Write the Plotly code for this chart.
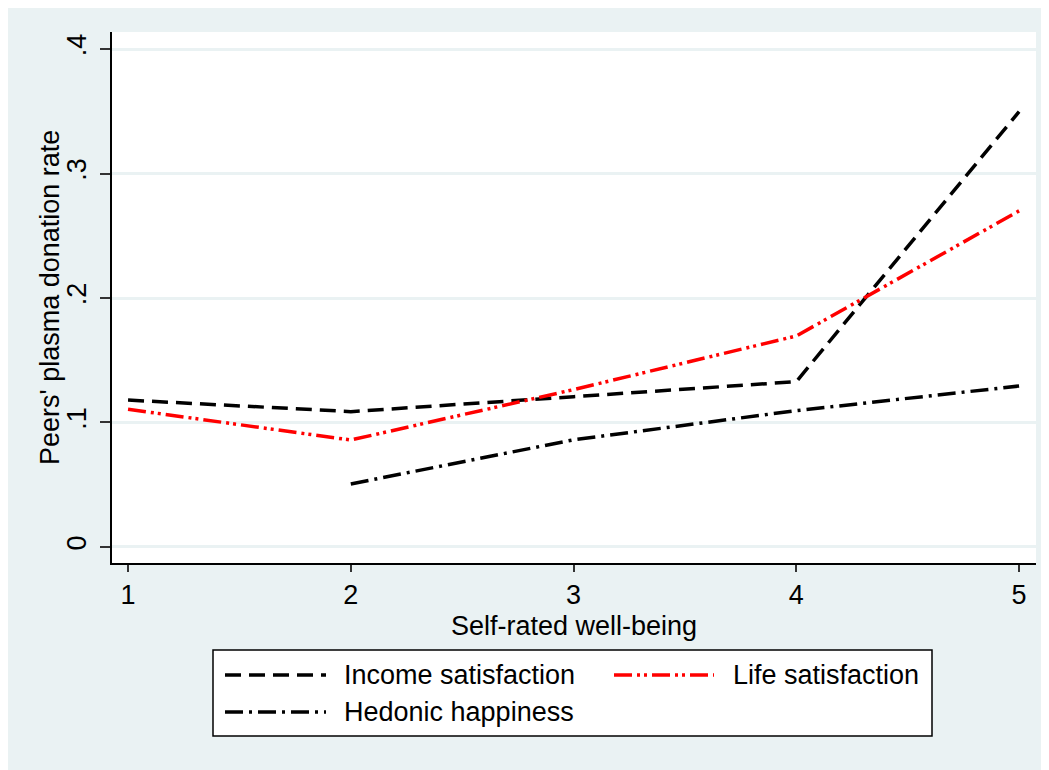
import plotly.graph_objects as go

# ---- data ----
well_being = [1, 2, 3, 4, 5]
income_satisfaction = [0.118, 0.1087, 0.1207, 0.1328, 0.3497]
life_satisfaction = [0.1106, 0.0859, 0.1264, 0.1695, 0.2700]
hedonic_happiness = [None, 0.0506, 0.0861, 0.1095, 0.1293]
series_names = ["Income satisfaction", "Life satisfaction", "Hedonic happiness"]
y_tickvals = [0, 0.1, 0.2, 0.3, 0.4]
y_ticktext = ["0", ".1", ".2", ".3", ".4"]
x_title = "Self-rated well-being"
y_title = "Peers' plasma donation rate"

# ---- styling ----
OX, OY = 8, 8                      # page body offset
W, H = 1049 - OX, 770 - OY
L, R, T, B = 112 - OX, 1036 - OX, 32 - OY, 563 - OY   # plot area in figure pixels
BG = "#EAF2F3"
FONT = "Liberation Sans, Arial, sans-serif"
FS = 27

styles = [
    dict(color="black", dash="16px,8px"),
    dict(color="#FF0000", dash="18px,5px,3px,4px,3px,5px"),
    dict(color="black", dash="18px,6px,3px,6px"),
]
values = [income_satisfaction, life_satisfaction, hedonic_happiness]

def px2x(px):
    return (px - OX - L) / (R - L)

def py2y(py):
    return (B - (py - OY)) / (B - T)

fig = go.Figure()
for name, vals, st in zip(series_names, values, styles):
    fig.add_trace(go.Scatter(
        x=well_being, y=vals, name=name, mode="lines",
        line=dict(color=st["color"], dash=st["dash"], width=3.5),
        connectgaps=False, showlegend=False,
    ))

shapes = []
annotations = []
# axis titles (screen pixel coordinates)
annotations.append(dict(xref="paper", yref="paper", x=px2x(574), y=py2y(626),
                        text=x_title, showarrow=False, xanchor="center", yanchor="middle",
                        borderpad=0,
                        font=dict(family=FONT, size=FS, color="black")))
annotations.append(dict(xref="paper", yref="paper", x=px2x(50), y=py2y(298),
                        text=y_title, showarrow=False, xanchor="center", yanchor="middle",
                        textangle=-90, borderpad=0,
                        font=dict(family=FONT, size=FS, color="black")))

# manual legend (screen pixel coordinates)
lx0, lx1, ly0, ly1 = 213, 932, 650, 736
shapes.append(dict(type="rect", xref="paper", yref="paper",
                   x0=px2x(lx0), x1=px2x(lx1), y0=py2y(ly1), y1=py2y(ly0),
                   fillcolor="white", line=dict(color="black", width=1.5)))
legend_pos = [(225, 326, 342, 675), (614, 714, 731, 675), (225, 326, 342, 712)]
for name, st, (sx0, sx1, tx, ty) in zip(series_names, styles, legend_pos):
    shapes.append(dict(type="line", xref="paper", yref="paper",
                       x0=px2x(sx0), x1=px2x(sx1), y0=py2y(ty), y1=py2y(ty),
                       line=dict(color=st["color"], dash=st["dash"], width=3.5)))
    annotations.append(dict(xref="paper", yref="paper", x=px2x(tx), y=py2y(ty),
                            text=name, showarrow=False, xanchor="left", yanchor="middle",
                            font=dict(family=FONT, size=FS, color="black")))

fig.update_layout(
    width=W, height=H,
    margin=dict(l=L, r=W - R, t=T, b=H - B, pad=0),
    paper_bgcolor=BG, plot_bgcolor="white",
    font=dict(family=FONT, size=FS, color="black"),
    shapes=shapes, annotations=annotations,
    showlegend=False,
)
fig.update_xaxes(
    range=[0.928, 5.076], tickvals=well_being, ticks="outside", ticklen=7,
    tickwidth=1.5, tickcolor="#333333", showline=True, linecolor="black", linewidth=1.5,
    showgrid=False, zeroline=False,
    tickfont=dict(family=FONT, size=FS),
)
fig.update_yaxes(
    range=[-0.0129, 0.4137], tickvals=y_tickvals, ticktext=y_ticktext, ticks="outside",
    ticklen=10, tickwidth=1.5, tickcolor="#333333", showline=True, linecolor="black",
    linewidth=1.5, showgrid=True, gridcolor=BG, gridwidth=2.5, zeroline=False,
    tickangle=-90, ticklabelstandoff=3,
    tickfont=dict(family=FONT, size=FS),
)

fig.write_html("out.html")
